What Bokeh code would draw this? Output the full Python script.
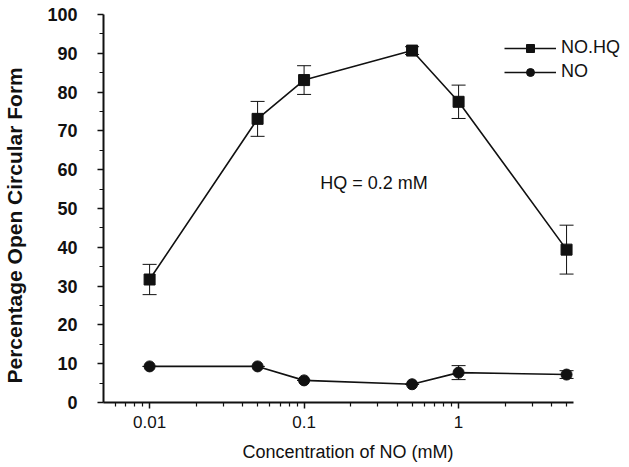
from bokeh.plotting import figure
from bokeh.models import (ColumnDataSource, Whisker, TeeHead, FixedTicker, CustomJSTickFormatter,
                          Legend, LegendItem, Label, Range1d, Title)
from bokeh.embed import file_html
from bokeh.resources import INLINE

# data
conc = [0.01, 0.05, 0.1, 0.5, 1, 5]
nohq = [31.7, 73.1, 83.1, 90.7, 77.5, 39.4]
nohq_err = [3.9, 4.5, 3.7, 1.0, 4.3, 6.3]
no = [9.3, 9.3, 5.7, 4.7, 7.7, 7.2]
no_err = [0.0, 0.0, 0.0, 0.0, 1.8, 1.0]

x_major = [0.01, 0.1, 1]
x_minor = [0.005, 0.006, 0.007, 0.008, 0.009,
           0.02, 0.03, 0.04, 0.05, 0.06, 0.07, 0.08, 0.09,
           0.2, 0.3, 0.4, 0.5, 0.6, 0.7, 0.8, 0.9,
           2, 3, 4, 5]
y_major = [0, 10, 20, 30, 40, 50, 60, 70, 80, 90, 100]
y_minor = [5, 15, 25, 35, 45, 55, 65, 75, 85, 95]
x_axis_min, x_axis_max = 0.00503, 5.55

x_title = "Concentration of NO (mM)"
y_title = "Percentage Open Circular Form"
annot_text = "HQ = 0.2 mM"
annot_x = 0.127
annot_y = 54.0

FONT = "Liberation Sans"
INK = "#111111"

p = figure(x_axis_type="log", output_backend="svg", toolbar_location=None,
           frame_width=524, frame_height=388,
           min_border_left=103, min_border_right=2, min_border_top=14, min_border_bottom=65,
           x_range=Range1d(x_axis_min, 12.4), y_range=Range1d(0, 100))
p.outline_line_color = None
p.xgrid.visible = False
p.ygrid.visible = False

s1 = ColumnDataSource(dict(x=conc, y=nohq,
                           lo=[a - b for a, b in zip(nohq, nohq_err)],
                           hi=[a + b for a, b in zip(nohq, nohq_err)]))
s2 = ColumnDataSource(dict(x=conc, y=no,
                           lo=[a - b for a, b in zip(no, no_err)],
                           hi=[a + b for a, b in zip(no, no_err)]))

for s in (s1, s2):
    w = Whisker(source=s, base="x", lower="lo", upper="hi", line_color=INK, line_width=1,
                upper_head=TeeHead(size=14, line_color=INK, line_width=1),
                lower_head=TeeHead(size=14, line_color=INK, line_width=1))
    p.add_layout(w)

l1 = p.line("x", "y", source=s1, line_color=INK, line_width=1.6)
m1 = p.scatter("x", "y", source=s1, marker="square", size=11, fill_color=INK, line_color=INK)
l2 = p.line("x", "y", source=s2, line_color=INK, line_width=1.6)
m2 = p.scatter("x", "y", source=s2, marker="circle", size=11, fill_color=INK, line_color=INK)

legend = Legend(items=[LegendItem(label="NO.HQ", renderers=[l1, m1]),
                       LegendItem(label="NO", renderers=[l2, m2])],
                location=(401, 320), background_fill_alpha=0, border_line_color=None,
                margin=0, padding=0, glyph_width=52, glyph_height=20, spacing=3,
                label_standoff=5, label_text_font=FONT, label_text_font_size="18px",
                label_text_color=INK)
p.add_layout(legend)

p.add_layout(Label(x=annot_x, y=annot_y, text=annot_text, text_font=FONT,
                   text_font_size="18px", text_color=INK))

xa = p.xaxis[0]
xa.bounds = (x_axis_min, x_axis_max)
xa.ticker = FixedTicker(ticks=x_major, minor_ticks=x_minor)
xa.formatter = CustomJSTickFormatter(code="return tick.toString();")
xa.major_label_text_font = FONT
xa.major_label_text_font_size = "17px"
xa.major_label_text_color = INK
xa.major_label_standoff = 7
xa.axis_line_width = 2
xa.axis_line_color = INK
xa.major_tick_line_width = 1.5
xa.major_tick_line_color = INK
xa.major_tick_in = 0
xa.major_tick_out = 6
xa.minor_tick_line_width = 1.2
xa.minor_tick_line_color = INK
xa.minor_tick_in = 0
xa.minor_tick_out = 4

# leading empty line pushes the title a little further below the tick labels
p.add_layout(Title(text="\n" + x_title, align="left", offset=139,
                   vertical_align="top", text_line_height=0.25,
                   text_font=FONT, text_font_size="18px", text_font_style="normal",
                   text_color=INK, standoff=12), "below")

ya = p.yaxis[0]
ya.ticker = FixedTicker(ticks=y_major, minor_ticks=y_minor)
ya.major_label_text_font = FONT
ya.major_label_text_font_style = "bold"
ya.major_label_text_font_size = "18px"
ya.major_label_text_color = INK
ya.major_label_standoff = 20
ya.axis_line_width = 2
ya.axis_line_color = INK
ya.major_tick_line_width = 1.5
ya.major_tick_line_color = INK
ya.major_tick_in = 0
ya.major_tick_out = 6
ya.minor_tick_line_width = 1.2
ya.minor_tick_line_color = INK
ya.minor_tick_in = 0
ya.minor_tick_out = 4

# trailing empty line moves the rotated title further from the tick labels
p.add_layout(Title(text=y_title + "\n", align="left", offset=19, text_line_height=0.82,
                   text_font=FONT, text_font_size="21px", text_font_style="bold",
                   text_color=INK, standoff=0), "left")

open("out.html", "w").write(file_html(p, INLINE))
